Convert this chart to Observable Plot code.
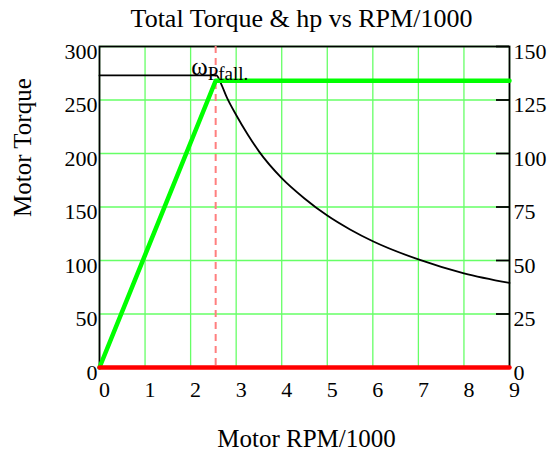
<!DOCTYPE html>
<html>
<head>
<meta charset="utf-8">
<script src="https://cdn.jsdelivr.net/npm/d3@7"></script>
<script src="https://cdn.jsdelivr.net/npm/@observablehq/plot@0.6"></script>
<style>
  html, body { margin: 0; padding: 0; background: white; }
</style>
</head>
<body>
<div id="chart"></div>
<script>
// Tick values
const xTicks = [0, 1, 2, 3, 4, 5, 6, 7, 8, 9];
const torqueTicks = [0, 50, 100, 150, 200, 250, 300];
const hpTicks = [0, 25, 50, 75, 100, 125, 150];

// Torque curve (left axis)
const torqueRpm = [0, 2.57, 2.65, 2.8, 3, 3.25, 3.5, 4, 4.5, 5, 5.5, 6, 7, 8, 9];
const torqueVal = [273, 273, 267, 252, 236, 218, 202, 177, 158, 142, 129, 118, 101, 88, 79];

// hp curve (right axis)
const hpRpm = [0, 2.55, 9];
const hpVal = [0, 134, 134];

// Zero series (red)
const zeroRpm = [0, 9];
const zeroVal = [0, 0];

// Marker
const pfallRpm = [2.55];

const hpToTorque = 2; // right axis 0-150 maps onto left axis 0-300

const torqueData = torqueRpm.map((x, i) => ({x, y: torqueVal[i]}));
const hpData = hpRpm.map((x, i) => ({x, y: hpVal[i] * hpToTorque}));
const zeroData = zeroRpm.map((x, i) => ({x, y: zeroVal[i]}));

const W = 551, H = 454;
const mL = 99, mR = 42, mT = 46, mB = 87;
const innerW = W - mL - mR;

const chart = Plot.plot({
  width: W,
  height: H,
  marginLeft: mL,
  marginRight: mR,
  marginTop: mT,
  marginBottom: mB,
  style: {fontFamily: "Liberation Serif", fontSize: "22px", background: "white", color: "black"},
  x: {domain: [0, 9], label: null},
  y: {domain: [0, 300], label: null},
  marks: [
    Plot.gridX(xTicks, {stroke: "#66ff66", strokeOpacity: 1, strokeWidth: 1.3}),
    Plot.gridY(torqueTicks, {stroke: "#66ff66", strokeOpacity: 1, strokeWidth: 1.3}),
    Plot.frame({stroke: "black", strokeWidth: 1.8}),
    Plot.tickY(hpTicks, {y: d => d * hpToTorque, insetLeft: innerW - 13, stroke: "black", strokeWidth: 1.8}),
    Plot.axisX(xTicks, {tickSize: 0, tickPadding: 14, dx: 5, fontSize: 22, label: null}),
    Plot.axisY(torqueTicks, {anchor: "left", tickSize: 0, tickPadding: 2, dy: 5, fontSize: 22, label: null}),
    Plot.axisY(hpTicks.map(d => d * hpToTorque), {anchor: "right", tickSize: 0, tickPadding: 4, dy: 5, fontSize: 22, tickFormat: d => d / hpToTorque, label: null}),
    Plot.ruleX(pfallRpm, {x: d => d, stroke: "#ff7f7f", strokeWidth: 2, strokeDasharray: "7,5"}),
    Plot.line(torqueData, {x: "x", y: "y", stroke: "black", strokeWidth: 1.8, curve: "monotone-x"}),
    Plot.line(hpData, {x: "x", y: "y", stroke: "#00ff00", strokeWidth: 4.5}),
    Plot.line(zeroData, {x: "x", y: "y", stroke: "#ff0000", strokeWidth: 4.5}),
    Plot.text(pfallRpm, {x: d => d, frameAnchor: "top", text: () => "ω", textAnchor: "end", lineAnchor: "middle", dx: -8, dy: 20, fontSize: 25}),
    Plot.text(pfallRpm, {x: d => d, frameAnchor: "top", text: () => "Pfall.", textAnchor: "start", lineAnchor: "middle", dx: -8, dy: 27, fontSize: 19}),
    Plot.text(["Total Torque & hp vs RPM/1000"], {frameAnchor: "top", text: d => d, lineAnchor: "middle", dx: -3, dy: -28, fontSize: 26}),
    Plot.text(["Motor RPM/1000"], {frameAnchor: "bottom", text: d => d, lineAnchor: "middle", dx: 2, dy: 71, fontSize: 25}),
    Plot.text(["Motor Torque"], {frameAnchor: "left", text: d => d, lineAnchor: "middle", rotate: -90, dx: -77, dy: 10, fontSize: 25})
  ]
});
document.getElementById("chart").appendChild(chart);
</script>
</body>
</html>
